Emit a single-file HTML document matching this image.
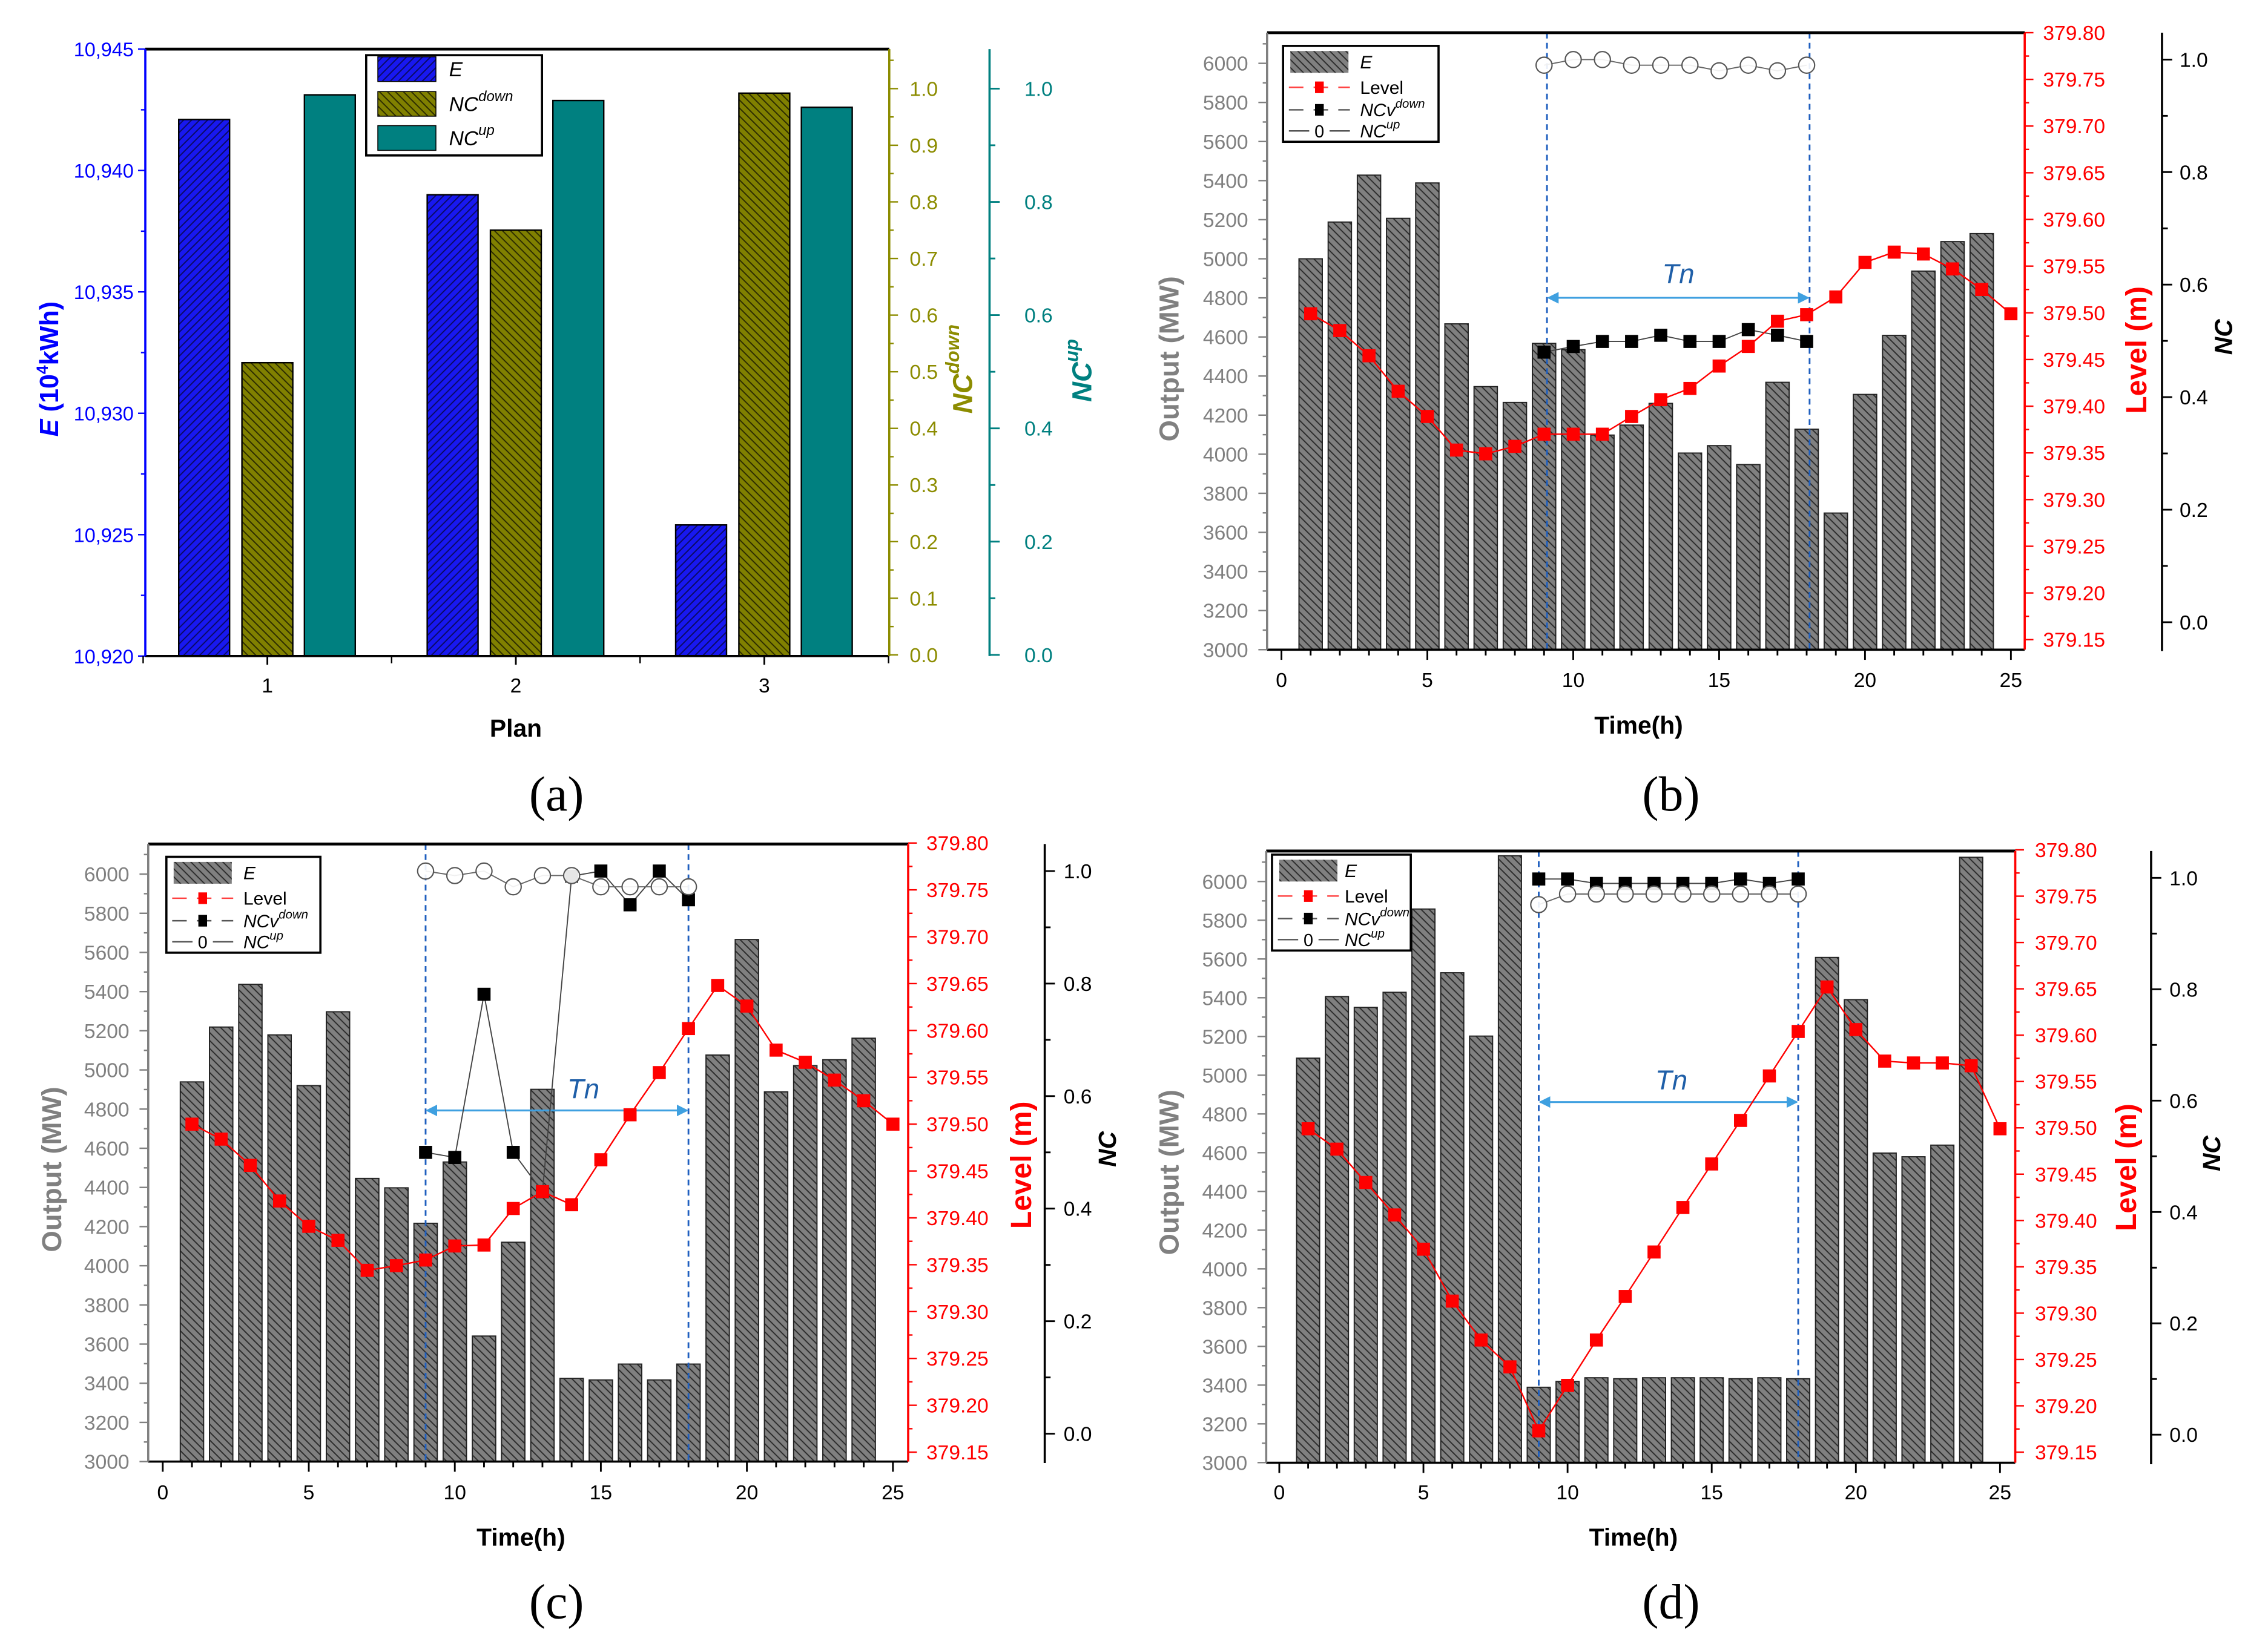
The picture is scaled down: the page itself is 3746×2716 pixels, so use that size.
<!DOCTYPE html>
<html><head><meta charset="utf-8">
<style>
html,body{margin:0;padding:0;background:#fff;}
svg{display:block;}
text{font-family:"Liberation Sans",sans-serif;}
text.cap{font-family:"Liberation Serif",serif;}
</style></head>
<body>
<svg id="fig" xmlns="http://www.w3.org/2000/svg" width="3746" height="2716" viewBox="0 0 1560.83 1131.67">
<defs>
<pattern id="hatchGrey" patternUnits="userSpaceOnUse" width="5.5" height="5.5"><rect width="5.5" height="5.5" fill="#808080"/><path d="M-1,-1 L6.5,6.5 M-1,4.5 L1,6.5 M4.5,-1 L6.5,1" stroke="#2a2a2a" stroke-width="0.8"/></pattern>
<pattern id="hatchBlue" patternUnits="userSpaceOnUse" width="5.5" height="5.5"><rect width="5.5" height="5.5" fill="#1818f0"/><path d="M-1,6.5 L6.5,-1 M-1,1 L1,-1 M4.5,6.5 L6.5,4.5" stroke="#0a0a60" stroke-width="0.8"/></pattern>
<pattern id="hatchOlive" patternUnits="userSpaceOnUse" width="5.5" height="5.5"><rect width="5.5" height="5.5" fill="#808000"/><path d="M-1,-1 L6.5,6.5 M-1,4.5 L1,6.5 M4.5,-1 L6.5,1" stroke="#2a2a00" stroke-width="0.8"/></pattern>
<marker id="arrowhead" markerWidth="8" markerHeight="8" refX="7" refY="4" orient="auto-start-reverse" markerUnits="userSpaceOnUse"><path d="M0,0 L8,4 L0,8 z" fill="#3fa0e0"/></marker>
</defs>
</svg>
<script>
// ---------- Panel (a) data ----------
const planCats = [1, 2, 3];
const planE = [10942.1, 10939.0, 10925.4];
const planNCdown = [0.516, 0.75, 0.992];
const planNCup = [0.989, 0.979, 0.967];

// ---------- Time panels shared categories ----------
const hours = [1,2,3,4,5,6,7,8,9,10,11,12,13,14,15,16,17,18,19,20,21,22,23,24];
const levelHours = [1,2,3,4,5,6,7,8,9,10,11,12,13,14,15,16,17,18,19,20,21,22,23,24,25];
const ncHours = [9,10,11,12,13,14,15,16,17,18];
const outputTicks = [3000,3200,3400,3600,3800,4000,4200,4400,4600,4800,5000,5200,5400,5600,5800,6000];
const levelTicks = ["379.15","379.20","379.25","379.30","379.35","379.40","379.45","379.50","379.55","379.60","379.65","379.70","379.75","379.80"];
const ncTicks = ["0.0","0.2","0.4","0.6","0.8","1.0"];
const timeTicks = [0,5,10,15,20,25];

// ---------- Panel (b) data ----------
const bOutput = [5000,5188,5428,5207,5388,4667,4346,4265,4567,4535,4098,4149,4260,4006,4044,3947,4368,4128,3699,4306,4608,4937,5088,5129];
const bLevel = [379.499,379.481,379.454,379.416,379.389,379.353,379.349,379.357,379.370,379.370,379.370,379.389,379.407,379.419,379.443,379.464,379.491,379.498,379.517,379.554,379.565,379.563,379.547,379.525,379.499];
const bNCdown = [0.480,0.490,0.499,0.499,0.510,0.499,0.499,0.520,0.510,0.499];
const bNCup = [0.990,1.0,1.0,0.990,0.990,0.990,0.980,0.990,0.980,0.990];

// ---------- Panel (c) data ----------
const cOutput = [4939,5219,5437,5179,4920,5297,4446,4398,4217,4530,3641,4120,4901,3425,3417,3498,3417,3498,5076,5666,4888,5022,5052,5162];
const cLevel = [379.500,379.484,379.456,379.418,379.391,379.376,379.344,379.349,379.355,379.370,379.371,379.410,379.428,379.414,379.462,379.510,379.555,379.602,379.648,379.626,379.579,379.566,379.547,379.525,379.500];
const cNCdown = [0.500,0.491,0.781,0.500,0.430,0.991,1.0,0.940,1.0,0.949];
const cNCup = [1.0,0.992,1.0,0.972,0.992,0.992,0.972,0.972,0.972,0.972];

// ---------- Panel (d) data ----------
const dOutput = [5088,5406,5350,5428,5858,5529,5202,6133,3389,3419,3438,3433,3438,3438,3438,3433,3438,3433,5608,5390,4598,4579,4639,6125];
const dLevel = [379.499,379.477,379.441,379.406,379.369,379.313,379.271,379.242,379.173,379.222,379.271,379.318,379.366,379.414,379.461,379.508,379.556,379.604,379.652,379.606,379.572,379.570,379.570,379.567,379.499];
const dNCdown = [0.998,0.998,0.990,0.990,0.990,0.990,0.990,0.998,0.990,0.998];
const dNCup = [0.952,0.971,0.971,0.971,0.971,0.971,0.971,0.971,0.971,0.971];

const NS = 'http://www.w3.org/2000/svg';
const svg = document.getElementById('fig');

function mk(tag, parent, attrs) {
  const e = document.createElementNS(NS, tag);
  for (const k in attrs) e.setAttribute(k, attrs[k]);
  parent.appendChild(e);
  return e;
}
function ln(parent, x1, y1, x2, y2, stroke, sw, dash) {
  const a = {x1:x1, y1:y1, x2:x2, y2:y2, stroke:stroke, 'stroke-width':sw};
  if (dash) a['stroke-dasharray'] = dash;
  return mk('line', parent, a);
}
function tx(parent, x, y, str, size, fill, anchor, extra) {
  const a = {x:x, y:y, 'font-size':size, fill:fill, 'text-anchor':anchor || 'start'};
  if (extra) for (const k in extra) a[k] = extra[k];
  const t = mk('text', parent, a);
  t.textContent = str;
  return t;
}
function sup(t, main, supStr, size) {
  t.textContent = '';
  const a = document.createElementNS(NS, 'tspan'); a.textContent = main; t.appendChild(a);
  const b = document.createElementNS(NS, 'tspan');
  b.setAttribute('font-size', size); b.setAttribute('dy', -size * 0.7); b.textContent = supStr; t.appendChild(b);
}

// ================= PANEL (a) =================
(function () {
  const g = mk('g', svg, {});
  
  
  const L = 100, R = 612, T = 33.8, B = 451.6;
  const yE = v => B + (v - 10920) * (T - B) / 25;
  const yN = v => 450.8 + v * (61 - 450.8);
  const xc = c => 184 + (c - 1) * 171;
  const barW = 35;
  planCats.forEach((c, i) => {
    let r = mk('rect', g, {x: xc(c) - 43.5 - barW / 2, y: yE(planE[i]), width: barW, height: B - yE(planE[i]), fill: 'url(#hatchBlue)', stroke: '#000', 'stroke-width': 1});
    
    
    r = mk('rect', g, {x: xc(c) - barW / 2, y: yN(planNCdown[i]), width: barW, height: B - yN(planNCdown[i]), fill: 'url(#hatchOlive)', stroke: '#000', 'stroke-width': 1});
    
    
    r = mk('rect', g, {x: xc(c) + 43 - barW / 2, y: yN(planNCup[i]), width: barW, height: B - yN(planNCup[i]), fill: '#008080', stroke: '#000', 'stroke-width': 1});
    
    
  });
  let e = ln(g, L, T, R, T, '#000', 2);  
  e = ln(g, L, B, R, B, '#000', 1.5);  
  e = ln(g, L, T, L, B, '#0000ff', 1.5);  
  e = ln(g, R, T, R, B, '#8c8c00', 1.5);  
  e = ln(g, 681, T, 681, B, '#008080', 1.5);  
  for (let v = 10920; v <= 10945.001; v += 2.5) {
    const major = Math.abs((v - 10920) % 5) < 0.01;
    ln(g, L, yE(v), L - (major ? 5 : 3), yE(v), '#0000ff', 1);
    if (major) {
      const t = tx(g, L - 8, yE(v) + 5, '10,' + String(Math.round(v) - 10000).padStart(3, '0'), 13.5, '#0000ff', 'end');
      
      
    }
  }
  planCats.forEach(c => {
    ln(g, xc(c), B, xc(c), B + 6, '#000', 1.2);
    const t = tx(g, xc(c), B + 25, String(c), 14, '#000', 'middle');
    
    
  });
  [0.5, 1.5, 2.5, 3.5].forEach(c => ln(g, xc(c), B, xc(c), B + 5, '#000', 1));
  for (let k = 0; k <= 21; k++) {
    const v = k * 0.05;
    const major = k % 2 === 0;
    ln(g, R, yN(v), R + (major ? 6 : 3), yN(v), '#8c8c00', 1);
    if (major) {
      const t = tx(g, 626, yN(v) + 5, v.toFixed(1), 14, '#8c8c00', 'start');
      
      
    }
  }
  for (let k = 0; k <= 10; k++) {
    const v = k * 0.1;
    const major = k % 2 === 0;
    ln(g, 681, yN(v), 681 + (major ? 7 : 4), yN(v), '#008080', 1.2);
    if (major) {
      const t = tx(g, 705, yN(v) + 5, v.toFixed(1), 14, '#008080', 'start');
      
      
    }
  }
  let t = tx(g, 0, 0, '', 18, '#0000ff', 'middle', {'font-weight': 'bold', transform: 'translate(40,254) rotate(-90)'});
  t.innerHTML = '<tspan font-style="italic">E</tspan> (10<tspan font-size="11" dy="-7">4</tspan><tspan dy="7">kWh)</tspan>';
  
  
  t = tx(g, 0, 0, '', 19, '#8c8c00', 'middle', {'font-weight': 'bold', 'font-style': 'italic', transform: 'translate(669,254) rotate(-90)'});
  sup(t, 'NC', 'down', 13);
  
  
  t = tx(g, 0, 0, '', 19, '#008080', 'middle', {'font-weight': 'bold', 'font-style': 'italic', transform: 'translate(751,255) rotate(-90)'});
  sup(t, 'NC', 'up', 13);
  
  
  t = tx(g, 355, 507, 'Plan', 17, '#000', 'middle', {'font-weight': 'bold'});
  
  
  const lg = mk('g', g, {});
  
  
  mk('rect', lg, {x: 252, y: 38, width: 121, height: 69, fill: '#fff', stroke: '#000', 'stroke-width': 1.5});
  const rows = [[47.6, 'url(#hatchBlue)', 'E', ''], [71.5, 'url(#hatchOlive)', 'NC', 'down'], [95, '#008080', 'NC', 'up']];
  rows.forEach(rw => {
    const s = mk('rect', lg, {x: 260, y: rw[0] - 8.5, width: 40, height: 17, fill: rw[1], stroke: '#000', 'stroke-width': 0.6});
    
    
    const lt = tx(lg, 309, rw[0] + 5, rw[2], 14, '#000', 'start', {'font-style': 'italic'});
    if (rw[3]) sup(lt, rw[2], rw[3], 10);
    
    
  });
  t = tx(g, 383, 558, '(a)', 34, '#000', 'middle', {'class': 'cap'});
  
  
})();

// ================= Time panels =================
function timePanel(cfg, output, level, ncd, ncu) {
  const g = mk('g', svg, {});
  
  
  const xs = t => cfg.x0 + t * (cfg.x25 - cfg.x0) / 25;
  const ys = v => cfg.o3 + (v - 3000) * (cfg.o6 - cfg.o3) / 3000;
  const yl = v => cfg.lb + (v - 379.15) * (cfg.lt - cfg.lb) / 0.65;
  const yn = v => cfg.n0 + v * (cfg.n1 - cfg.n0);
  const hw = (cfg.x25 - cfg.x0) / 25 * 0.4;
  hours.forEach((h, i) => {
    const r = mk('rect', g, {x: xs(h) - hw, y: ys(output[i]), width: hw * 2, height: cfg.B - ys(output[i]), fill: 'url(#hatchGrey)', stroke: '#222', 'stroke-width': 0.8});
    
    
  });
  cfg.dash.forEach(d => {
    const l = ln(g, xs(d), cfg.T, xs(d), cfg.B, '#1f5fbf', 1.2, '4,3');
    
    
  });
  let a = mk('line', g, {x1: xs(cfg.dash[0]) + 1, y1: cfg.arrowY, x2: xs(cfg.dash[1]) - 1, y2: cfg.arrowY, stroke: '#3fa0e0', 'stroke-width': 1.3, 'marker-start': 'url(#arrowhead)', 'marker-end': 'url(#arrowhead)'});
  
  
  let t = tx(g, xs(cfg.tnT), cfg.tnY, 'Tn', 19, '#1f5fa8', 'middle', {'font-style': 'italic'});
  
  
  const pd = ncHours.map((h, i) => xs(h) + ',' + yn(ncd[i])).join(' ');
  let pl = mk('polyline', g, {points: pd, fill: 'none', stroke: '#444', 'stroke-width': 0.8});
  
  
  const pu = ncHours.map((h, i) => xs(h) + ',' + yn(ncu[i])).join(' ');
  pl = mk('polyline', g, {points: pu, fill: 'none', stroke: '#666', 'stroke-width': 0.8});
  
  
  ncHours.forEach((h, i) => {
    const s = mk('rect', g, {x: xs(h) - 4.5, y: yn(ncd[i]) - 4.5, width: 9, height: 9, fill: '#000'});
    
    
  });
  ncHours.forEach((h, i) => {
    const c = mk('circle', g, {cx: xs(h), cy: yn(ncu[i]), r: 5.5, fill: '#fff', 'fill-opacity': 0.9, stroke: '#555', 'stroke-width': 0.9});
    
    
  });
  const plv = levelHours.map((h, i) => xs(h) + ',' + yl(level[i])).join(' ');
  pl = mk('polyline', g, {points: plv, fill: 'none', stroke: '#ff0000', 'stroke-width': 1});
  
  
  levelHours.forEach((h, i) => {
    const s = mk('rect', g, {x: xs(h) - 4.5, y: yl(level[i]) - 4.5, width: 9, height: 9, fill: '#ff0000'});
    
    
  });
  let e = ln(g, cfg.L, cfg.T, cfg.R, cfg.T, '#000', 2);  
  e = ln(g, cfg.L, cfg.B, cfg.R, cfg.B, '#000', 1.5);  
  e = ln(g, cfg.L, cfg.T, cfg.L, cfg.B, '#808080', 1.5);  
  e = ln(g, cfg.R, cfg.T, cfg.R, cfg.B, '#ff0000', 1.5);  
  e = ln(g, cfg.ncX, cfg.T, cfg.ncX, cfg.B + 1, '#000', 1.5);  
  for (let v = 3000; v <= 6100; v += 100) {
    const major = v % 200 === 0;
    ln(g, cfg.L, ys(v), cfg.L - (major ? 6 : 3), ys(v), '#808080', 1);
  }
  outputTicks.forEach(v => {
    const lt = tx(g, cfg.L - 13, ys(v) + 5, String(v), 14, '#808080', 'end');
    
    
  });
  for (let h = 0; h <= 25; h++) ln(g, xs(h), cfg.B, xs(h), cfg.B + (h % 5 === 0 ? 7 : 4), '#000', 1.2);
  timeTicks.forEach(h => {
    const lt = tx(g, xs(h), cfg.xLabY, String(h), 14, '#000', 'middle');
    
    
  });
  for (let k = 0; k <= 26; k++) {
    const v = 379.15 + k * 0.025;
    ln(g, cfg.R, yl(v), cfg.R + (k % 2 === 0 ? 6 : 3), yl(v), '#ff0000', 1);
  }
  levelTicks.forEach(s => {
    const lt = tx(g, cfg.lvLabX, yl(parseFloat(s)) + 5, s, 14, '#ff0000', 'start');
    
    
  });
  for (let k = 0; k <= 10; k++) ln(g, cfg.ncX, yn(k * 0.1), cfg.ncX + (k % 2 === 0 ? 7 : 4), yn(k * 0.1), '#000', 1.2);
  ncTicks.forEach(s => {
    const lt = tx(g, cfg.ncLabX, yn(parseFloat(s)) + 5, s, 14, '#000', 'start');
    
    
  });
  t = tx(g, 0, 0, 'Output (MW)', 19, '#808080', 'middle', {'font-weight': 'bold', transform: 'translate(' + (cfg.outTX + 7) + ',' + cfg.outTY + ') rotate(-90)'});
  
  
  t = tx(g, 0, 0, 'Level (m)', 20, '#ff0000', 'middle', {'font-weight': 'bold', transform: 'translate(' + (cfg.lvTX + 7) + ',' + cfg.lvTY + ') rotate(-90)'});
  
  
  t = tx(g, 0, 0, 'NC', 17, '#000', 'middle', {'font-weight': 'bold', 'font-style': 'italic', transform: 'translate(' + (cfg.ncTX + 6) + ',' + cfg.ncTY + ') rotate(-90)'});
  
  
  t = tx(g, (cfg.L + cfg.R) / 2 - 5, cfg.timeY, 'Time(h)', 17, '#000', 'middle', {'font-weight': 'bold'});
  
  
  const lg = mk('g', g, {});
  
  
  const lx = cfg.lgX, ly = cfg.lgY;
  mk('rect', lg, {x: lx, y: ly, width: cfg.lgW, height: cfg.lgH, fill: '#fff', stroke: '#000', 'stroke-width': 1.5});
  const rowY = [11, 28.5, 44, 58.5].map(v => ly + v * cfg.lgH / 66);
  let s = mk('rect', lg, {x: lx + 5, y: rowY[0] - 7.5, width: 40, height: 15, fill: 'url(#hatchGrey)'});
  
  
  ln(lg, lx + 4, rowY[1], lx + 46, rowY[1], '#ff4040', 1, '10,7');
  mk('rect', lg, {x: lx + 22, y: rowY[1] - 4, width: 6, height: 8, fill: '#ff0000'});
  ln(lg, lx + 4, rowY[2], lx + 46, rowY[2], '#555', 1, '10,7');
  mk('rect', lg, {x: lx + 22, y: rowY[2] - 4, width: 6, height: 8, fill: '#000'});
  ln(lg, lx + 4, rowY[3], lx + 18, rowY[3], '#555', 1);
  ln(lg, lx + 32, rowY[3], lx + 46, rowY[3], '#555', 1);
  tx(lg, lx + 25, rowY[3] + 4.5, '0', 12, '#000', 'middle');
  const labels = [['E', '', true], ['Level', '', false], ['NCv', 'down', true], ['NC', 'up', true]];
  const tfx = cfg.lgW < 100 ? 50 : 53;
  labels.forEach((lb, i) => {
    const lt = tx(lg, lx + tfx, rowY[i] + 4.5, lb[0], 12.5, '#000', 'start', lb[2] ? {'font-style': 'italic'} : {});
    if (lb[1]) sup(lt, lb[0], lb[1], 8.5);
    
    
  });
  t = tx(g, cfg.capX, cfg.capY, '(' + cfg.id + ')', 34, '#000', 'middle', {'class': 'cap'});
  
  
}

timePanel({id: 'b', L: 872, R: 1393.4, T: 22.5, B: 447.2, x0: 881.9, x25: 1383.9, o3: 447.2, o6: 43.6, lt: 22.5, lb: 440.3,
  ncX: 1487.9, n1: 41, n0: 428.3, lvLabX: 1406, ncLabX: 1500, xLabY: 473, timeY: 505,
  outTX: 804, outTY: 247, lvTX: 1470, lvTY: 241, ncTX: 1530, ncTY: 232,
  lgX: 883, lgY: 31.6, lgW: 107, lgH: 66, dash: [9.1, 18.1], arrowY: 205, tnT: 13.6, tnY: 195, capX: 1150, capY: 558},
  bOutput, bLevel, bNCdown, bNCup);

timePanel({id: 'c', L: 102, R: 625, T: 581, B: 1006.1, x0: 112, x25: 614.5, o3: 1006.1, o6: 601.7, lt: 580.3, lb: 999.6,
  ncX: 719, n1: 599.6, n0: 986.9, lvLabX: 637.5, ncLabX: 732, xLabY: 1032, timeY: 1064,
  outTX: 35, outTY: 805, lvTX: 702.5, lvTY: 802, ncTX: 762, ncTY: 791,
  lgX: 114.5, lgY: 589.8, lgW: 106, lgH: 66, dash: [9, 18], arrowY: 764.4, tnT: 14.4, tnY: 756, capX: 383, capY: 1114},
  cOutput, cLevel, cNCdown, cNCup);

timePanel({id: 'd', L: 871.4, R: 1386.9, T: 585.8, B: 1006.9, x0: 880.4, x25: 1376.4, o3: 1006.8, o6: 606.8, lt: 585.0, lb: 999.6,
  ncX: 1480.4, n1: 604.3, n0: 987.6, lvLabX: 1400.4, ncLabX: 1493, xLabY: 1032, timeY: 1064,
  outTX: 804, outTY: 807, lvTX: 1463, lvTY: 803.6, ncTX: 1522, ncTY: 794,
  lgX: 875.4, lgY: 588.3, lgW: 95.5, lgH: 66, dash: [9, 18], arrowY: 758.6, tnT: 13.6, tnY: 750, capX: 1150, capY: 1114},
  dOutput, dLevel, dNCdown, dNCup);
</script>
</body></html>
